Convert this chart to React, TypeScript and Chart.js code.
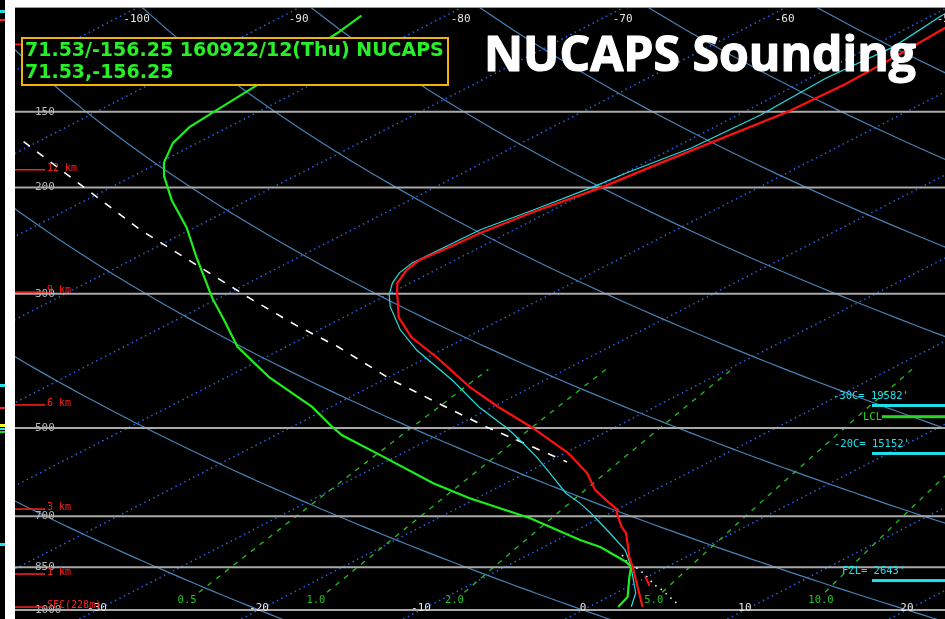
import React, { useEffect, useRef } from "react";
import { Chart, registerables } from "chart.js";

Chart.register(...registerables);

// Temperature (red)
const tempP = [988, 916, 849, 820, 796, 746, 729, 691, 683, 658, 633, 594, 550, 500, 462, 428, 383, 354, 328, 301, 288, 274, 264, 251, 238, 220, 200, 182, 150, 135, 122, 109, 100];
const tempT = [3.3, 0.6, -2.1, -3.4, -4.4, -6.6, -7.6, -9.6, -9.9, -11.8, -13.7, -16.2, -19.8, -25.0, -29.6, -33.8, -39.3, -43.4, -46.6, -49.4, -50.8, -51.8, -52.2, -51.9, -51.7, -51.0, -49.7, -49.0, -47.3, -47.1, -47.3, -47.7, -48.0];

// Second temperature trace (cyan)
const cyanP = [988, 937, 869, 833, 796, 746, 718, 691, 665, 641, 594, 558, 523, 500, 462, 417, 372, 344, 315, 301, 288, 277, 267, 252, 235, 218, 200, 189, 172, 152, 132, 117, 104, 100];
const cyanT = [2.6, 1.2, -1.4, -2.9, -4.6, -7.6, -9.4, -11.2, -13.1, -15.1, -18.5, -21.3, -24.4, -26.6, -30.8, -35.7, -41.5, -45.0, -48.4, -49.9, -51.1, -51.9, -52.3, -52.2, -52.1, -51.2, -50.3, -49.9, -48.9, -48.6, -49.0, -48.6, -49.4, -49.5];

// Dewpoint (green)
const dewP = [988, 952, 882, 849, 833, 787, 766, 705, 653, 617, 554, 514, 498, 462, 412, 367, 331, 305, 261, 233, 210, 192, 182, 169, 159, 151, 135, 111, 104];
const dewT = [1.8, 1.2, -1.1, -2.2, -3.1, -6.5, -8.6, -14.3, -20.5, -24.5, -31.2, -35.9, -37.5, -41.1, -47.4, -53.0, -57.1, -60.4, -66.3, -70.5, -74.7, -78.0, -79.7, -81.5, -82.4, -82.7, -83.3, -84.6, -85.2];

// Parcel trace (white dashed)
const parcelP = [168, 235, 305, 338, 367, 417, 463, 498, 569];
const parcelT = [-90.9, -73.1, -58.1, -52.0, -46.8, -39.4, -32.7, -28.0, -18.8];

// Near-surface white dotted trace and small red tick
const sfcP = [811, 827, 859, 882, 909, 927, 952, 977];
const sfcT = [-4.2, -3.4, -1.3, 0.0, 1.4, 2.5, 3.8, 5.1];
const tickP = [880, 912];
const tickT = [-0.2, 1.2];

// Grid definitions
const isobars = [150, 200, 300, 500, 700, 850, 1000];
const isobarLabels = ["150", "200", "300", "500", "700", "850", "1000"];
const isotherms = [-140, -130, -120, -110, -100, -90, -80, -70, -60, -50, -40, -30, -20, -10, 0, 10, 20, 30, 40];
const dryAdiabats = [-40, -20, 0, 20, 40, 60, 80, 100, 120, 140, 160, 180];
const mixingRatios = [0.5, 1, 2, 5, 10];
const mixingLabels = ["0.5", "1.0", "2.0", "5.0", "10.0"];
const topTempLabels = [-100, -90, -80, -70, -60, -50];
const bottomTempLabels = [-30, -20, -10, 0, 10, 20];

// Height markers
const heightLabels = ["15 km", "12 km", "9 km", "6 km", "3 km", "1 km", "SFC(228m)"];
const heightP = [116, 187, 298, 458, 681, 872, 989];

// Right-side annotations
const annLabels = ["-30C= 19582'", "LCL", "-20C= 15152'", "FZL= 2643'"];
const annP = [459, 479, 551, 894];

const infoLine1 = "71.53/-156.25 160922/12(Thu) NUCAPS";
const infoLine2 = "71.53,-156.25";
const titleText = "NUCAPS Sounding";

// ---------------- transform / layout constants ----------------
const SKEW = 31.6; // skew (°C per ln(p) unit)
const KAPPA = 0.2845;
const X_MIN = -35.06;
const X_MAX = 22.35;
const P_TOP = 101;
const P_BOTTOM = 1035;

function skewX(t: number, p: number) {
  return t + SKEW * Math.log(1000 / p);
}
function series(ps: number[], ts: number[]) {
  return ps.map((p, i) => ({ x: skewX(ts[i], p), y: p }));
}
function mixT(w: number, p: number) {
  const es = (w * p) / (622 + w);
  const l = Math.log(es / 6.112);
  return (243.5 * l) / (17.67 - l);
}

const gridLevels: number[] = [];
for (let p = 1100; p >= 90; p -= 10) gridLevels.push(p);
const mixLevels: number[] = [];
for (let p = 935; p >= 400; p -= 5) mixLevels.push(p);

function buildDatasets() {
  const ds: any[] = [];
  isotherms.forEach((t) =>
    ds.push({
      data: [
        { x: skewX(t, 1100), y: 1100 },
        { x: skewX(t, 90), y: 90 },
      ],
      borderColor: "#2463e8",
      borderWidth: 1.5,
      borderDash: [1.5, 3.5],
      order: 8,
    })
  );
  dryAdiabats.forEach((th) =>
    ds.push({
      data: gridLevels.map((p) => ({ x: skewX((th + 273.15) * Math.pow(p / 1000, KAPPA) - 273.15, p), y: p })),
      borderColor: "#4a82b6",
      borderWidth: 1.2,
      order: 7,
    })
  );
  mixingRatios.forEach((w) =>
    ds.push({
      data: mixLevels.map((p) => ({ x: skewX(mixT(w, p), p), y: p })),
      borderColor: "#22c022",
      borderWidth: 1.3,
      borderDash: [5, 6],
      order: 6,
    })
  );
  isobars.forEach((p) =>
    ds.push({
      data: [
        { x: X_MIN - 5, y: p },
        { x: X_MAX + 5, y: p },
      ],
      borderColor: "#a8a8a8",
      borderWidth: 2,
      order: 5,
    })
  );
  ds.push({ data: series(parcelP, parcelT), borderColor: "#ffffff", borderWidth: 1.6, borderDash: [8, 9], order: 4 });
  ds.push({ data: series(sfcP, sfcT), borderColor: "#ffffff", borderWidth: 1.6, borderDash: [1.5, 5], order: 4 });
  ds.push({ data: series(tickP, tickT), borderColor: "#ff1010", borderWidth: 2, order: 3 });
  ds.push({ data: series(cyanP, cyanT), borderColor: "#26dede", borderWidth: 1.2, order: 2 });
  ds.push({ data: series(dewP, dewT), borderColor: "#1cee1c", borderWidth: 2.2, order: 1 });
  ds.push({ data: series(tempP, tempT), borderColor: "#ff1010", borderWidth: 2.2, order: 0 });
  return ds.map((d) => ({ ...d, showLine: true, pointRadius: 0, fill: false, tension: 0 }));
}

const bgPlugin = {
  id: "bg",
  beforeDraw(chart: any) {
    const { ctx, chartArea } = chart;
    ctx.save();
    ctx.fillStyle = "#ffffff";
    ctx.fillRect(0, 0, chart.width, chart.height);
    ctx.fillStyle = "#000000";
    ctx.fillRect(0, 0, 5, chart.height);
    ctx.fillRect(chartArea.left, chartArea.top, chartArea.right - chartArea.left, chartArea.bottom - chartArea.top);
    ctx.fillStyle = "#9a9a9a";
    ctx.fillRect(chartArea.left, chartArea.top - 1, chartArea.right - chartArea.left, 1);
    // marks of the neighbouring panel at far left
    const marks: [number, number, string][] = [
      [10, 3, "#28d8d8"],
      [19, 2, "#ff2020"],
      [384, 3, "#28e0e8"],
      [407, 2, "#ff2020"],
      [424, 3, "#ffff30"],
      [428, 2, "#28e0e8"],
      [431, 2, "#20e020"],
      [543, 3, "#28e0e8"],
    ];
    marks.forEach(([y, h, c]) => {
      ctx.fillStyle = c;
      ctx.fillRect(0, y, 5, h);
    });
    ctx.restore();
  },
};

const overlayPlugin = {
  id: "overlay",
  afterDraw(chart: any) {
    const { ctx } = chart;
    const xs = chart.scales.x;
    const ys = chart.scales.y;
    ctx.save();
    const mono = "'DejaVu Sans Mono', monospace";

    // pressure labels
    ctx.font = `11px ${mono}`;
    ctx.fillStyle = "#b8b8b8";
    ctx.textAlign = "left";
    ctx.textBaseline = "middle";
    isobars.forEach((p, i) => ctx.fillText(isobarLabels[i], 35, ys.getPixelForValue(p)));

    // temperature labels
    ctx.fillStyle = "#e6e6e6";
    ctx.textAlign = "center";
    topTempLabels.forEach((t) => ctx.fillText(String(t), xs.getPixelForValue(skewX(t, P_TOP)), 19));
    bottomTempLabels.forEach((t) => ctx.fillText(String(t), xs.getPixelForValue(skewX(t, 1000)), ys.getPixelForValue(1000) - 2));

    // mixing ratio labels
    ctx.font = `10.5px ${mono}`;
    ctx.fillStyle = "#22c422";
    ctx.textAlign = "left";
    mixingRatios.forEach((w, i) =>
      ctx.fillText(mixingLabels[i], xs.getPixelForValue(skewX(mixT(w, 1000), 1000)) + 1, ys.getPixelForValue(1000) - 10)
    );

    // height markers
    ctx.font = `10px ${mono}`;
    ctx.textBaseline = "alphabetic";
    heightP.forEach((p, i) => {
      const y = ys.getPixelForValue(p);
      ctx.fillStyle = "#ff2020";
      ctx.fillRect(15, y - 0.75, 30, 1.5);
      ctx.fillText(heightLabels[i], 47, y + 1);
    });

    // right annotations
    ctx.font = `10.5px ${mono}`;
    ctx.textBaseline = "middle";
    const annColors = ["#1ee0ea", "#22d822", "#1ee0ea", "#1ee0ea"];
    const annTextX = [833, 863, 834, 842];
    const annLineX = [872, 882, 872, 872];
    const annTextDy = [-9.5, 1, -9.5, -9.5];
    annP.forEach((p, i) => {
      const y = ys.getPixelForValue(p);
      ctx.fillStyle = annColors[i];
      ctx.fillRect(annLineX[i], y - 1.5, 945 - annLineX[i], 3);
      ctx.fillText(annLabels[i], annTextX[i], y + annTextDy[i]);
    });

    // info box
    ctx.fillStyle = "#000000";
    ctx.fillRect(22, 38, 426, 47);
    ctx.strokeStyle = "#f2b400";
    ctx.lineWidth = 2;
    ctx.strokeRect(22, 38, 426, 47);
    ctx.fillStyle = "#28f028";
    ctx.textBaseline = "alphabetic";
    ctx.textAlign = "left";
    const family = "'DejaVu Sans', sans-serif";
    ctx.font = `bold 40px ${family}`;
    const size = (40 * 419) / ctx.measureText(infoLine1).width;
    ctx.font = `bold ${size.toFixed(2)}px ${family}`;
    ctx.fillText(infoLine1, 25, 56);
    ctx.fillText(infoLine2, 25, 78);

    // title
    const tfam = "'Open Sans', sans-serif";
    ctx.font = `bold 40px ${tfam}`;
    const tsize = (40 * 432) / ctx.measureText(titleText).width;
    ctx.font = `bold ${tsize.toFixed(2)}px ${tfam}`;
    ctx.fillStyle = "#ffffff";
    ctx.strokeStyle = "#ffffff";
    ctx.lineWidth = 1.2;
    ctx.lineJoin = "round";
    ctx.strokeText(titleText, 484, 71);
    ctx.fillText(titleText, 484, 71);
    ctx.restore();
  },
};

export default function App() {
  const ref = useRef<HTMLCanvasElement>(null);
  useEffect(() => {
    document.body.style.margin = "0";
    const canvas = ref.current!;
    const chart = new Chart(canvas, {
      type: "scatter",
      data: { datasets: buildDatasets() },
      options: {
        animation: false,
        responsive: false,
        devicePixelRatio: 1,
        events: [],
        layout: { padding: { left: 15, top: 8, right: 0, bottom: 0 } },
        elements: { point: { radius: 0 }, line: { tension: 0 } },
        plugins: { legend: { display: false }, tooltip: { enabled: false }, title: { display: false } },
        scales: {
          x: { type: "linear", display: false, min: X_MIN, max: X_MAX },
          y: { type: "logarithmic", display: false, reverse: true, min: P_TOP, max: P_BOTTOM },
        },
      } as any,
      plugins: [bgPlugin, overlayPlugin],
    });
    return () => chart.destroy();
  }, []);
  return (
    <div style={{ position: "absolute", left: 0, top: 0, width: 945, height: 619 }}>
      <canvas ref={ref} width={945} height={619} style={{ width: 945, height: 619, display: "block" }} />
    </div>
  );
}
